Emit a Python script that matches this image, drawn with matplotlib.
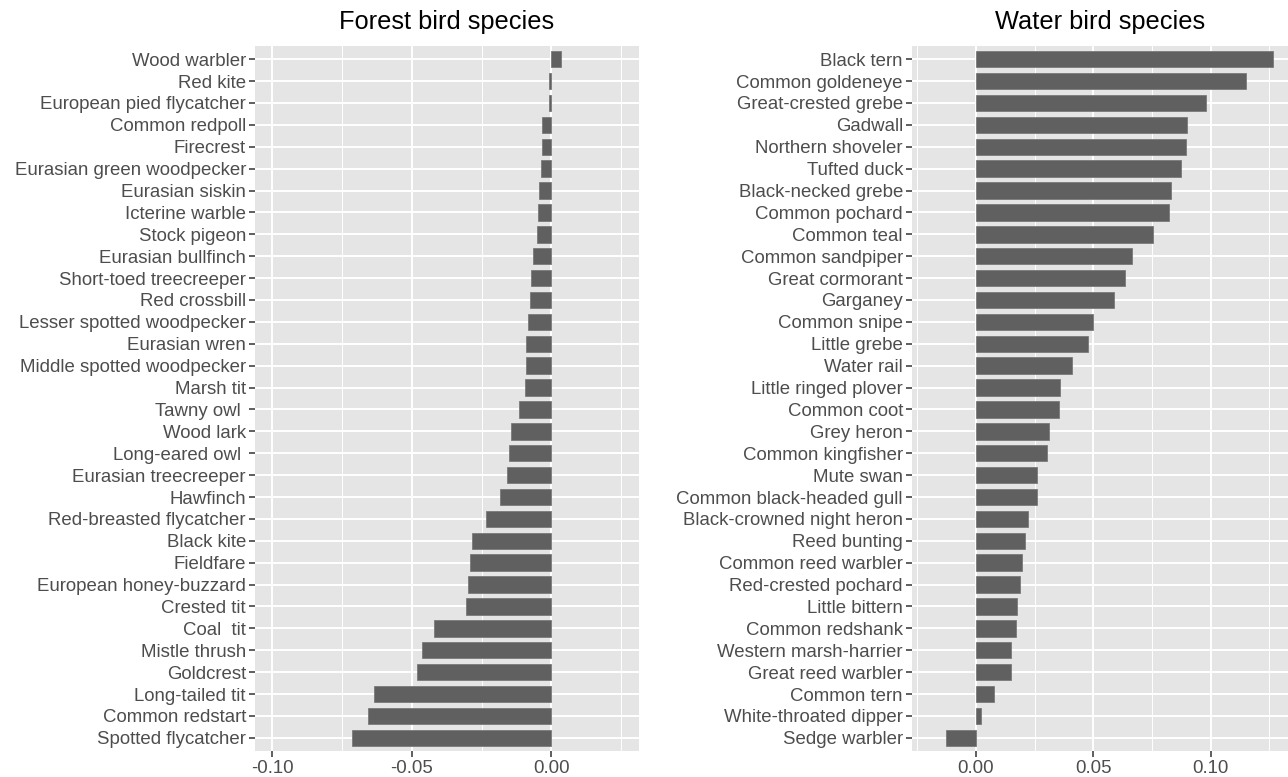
import matplotlib.pyplot as plt
import numpy as np

# species listed top to bottom
forest_species = ["Wood warbler", "Red kite", "European pied flycatcher", "Common redpoll",
                  "Firecrest", "Eurasian green woodpecker", "Eurasian siskin", "Icterine warble",
                  "Stock pigeon", "Eurasian bullfinch", "Short-toed treecreeper", "Red crossbill",
                  "Lesser spotted woodpecker", "Eurasian wren", "Middle spotted woodpecker",
                  "Marsh tit", "Tawny owl ", "Wood lark", "Long-eared owl ", "Eurasian treecreeper",
                  "Hawfinch", "Red-breasted flycatcher", "Black kite", "Fieldfare",
                  "European honey-buzzard", "Crested tit", "Coal  tit", "Mistle thrush",
                  "Goldcrest", "Long-tailed tit", "Common redstart", "Spotted flycatcher"]
forest_values = [0.0035, -0.0010, -0.0010, -0.0034, -0.0034, -0.0037, -0.0044, -0.0047,
                 -0.0051, -0.0065, -0.0072, -0.0077, -0.0082, -0.0091, -0.0091, -0.0095,
                 -0.0116, -0.0145, -0.0153, -0.0159, -0.0184, -0.0236, -0.0285, -0.0290,
                 -0.0298, -0.0307, -0.0420, -0.0463, -0.0482, -0.0637, -0.0658, -0.0713]

water_species = ["Black tern", "Common goldeneye", "Great-crested grebe", "Gadwall",
                 "Northern shoveler", "Tufted duck", "Black-necked grebe", "Common pochard",
                 "Common teal", "Common sandpiper", "Great cormorant", "Garganey",
                 "Common snipe", "Little grebe", "Water rail", "Little ringed plover",
                 "Common coot", "Grey heron", "Common kingfisher", "Mute swan",
                 "Common black-headed gull", "Black-crowned night heron", "Reed bunting",
                 "Common reed warbler", "Red-crested pochard", "Little bittern",
                 "Common redshank", "Western marsh-harrier", "Great reed warbler",
                 "Common tern", "White-throated dipper", "Sedge warbler"]
water_values = [0.1267, 0.1149, 0.0981, 0.0900, 0.0896, 0.0873, 0.0830, 0.0823,
                0.0754, 0.0663, 0.0636, 0.0590, 0.0500, 0.0479, 0.0410, 0.0360,
                0.0353, 0.0309, 0.0302, 0.0259, 0.0259, 0.0220, 0.0208, 0.0195,
                0.0188, 0.0175, 0.0169, 0.0149, 0.0151, 0.0078, 0.0021, -0.0129]

forest_ticks = [-0.10, -0.05, 0.00]
water_ticks = [0.00, 0.05, 0.10]

plt.rcParams['font.family'] = ['Liberation Sans', 'DejaVu Sans']

fig = plt.figure(figsize=(12.88, 7.77), dpi=100)
ax1 = fig.add_axes([255 / 1288, 1 - 751 / 777, 384 / 1288, 705 / 777])
ax2 = fig.add_axes([912 / 1288, 1 - 751 / 777, 376 / 1288, 705 / 777])


def panel(ax, names, vals, ticks, minors, xlim, title):
    y = np.arange(len(names))
    ax.set_facecolor("#e5e5e5")
    ax.barh(y, vals, height=0.75, color="#606060", edgecolor="#7a7a7a", linewidth=0.6, zorder=3)
    ax.set_yticks(y)
    ax.set_yticklabels(names)
    ax.set_ylim(len(names) - 0.4, -0.6)
    ax.set_xlim(*xlim)
    ax.set_xticks(ticks)
    ax.set_xticklabels(["%.2f" % t for t in ticks])
    ax.set_xticks(minors, minor=True)
    ax.grid(True, which="major", color="white", linewidth=1.4, zorder=1)
    ax.grid(True, which="minor", axis="x", color="white", linewidth=0.7, zorder=1)
    ax.set_axisbelow(True)
    for s in ax.spines.values():
        s.set_visible(False)
    ax.tick_params(axis="both", which="major", length=4, width=1.1, color="#333333",
                   labelsize=13.4, labelcolor="#4d4d4d", pad=2.5)
    ax.tick_params(axis="x", which="minor", length=0)
    ax.set_title(title, fontsize=18.3, color="black", pad=12)


panel(ax1, forest_species, forest_values, forest_ticks, [-0.075, -0.025, 0.025],
      (-0.1062, 0.0314), "Forest bird species")
panel(ax2, water_species, water_values, water_ticks, [-0.025, 0.025, 0.075, 0.125],
      (-0.0273, 0.133), "Water bird species")

fig.savefig("out.png", dpi=100)
